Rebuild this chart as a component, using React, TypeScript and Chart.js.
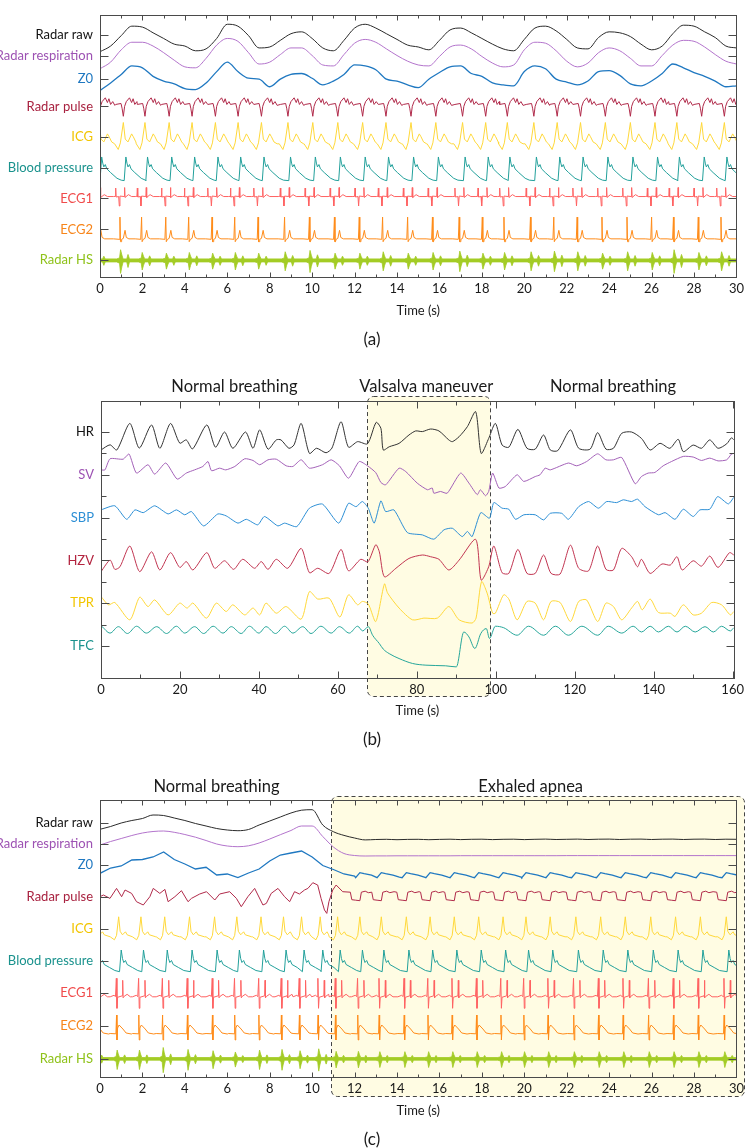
import { useEffect, useRef } from 'react';
import { Chart, registerables } from 'chart.js';

Chart.register(...registerables);

const FONT = 'Lato, "DejaVu Sans", sans-serif';
const AXIS = '#4a4a4a';
const TEXT = '#1a1a1a';

type P = { x: number; y: number };

// ================= Panel (a) =================
const namesA = ['Radar raw', 'Radar respiration', 'Z0', 'Radar pulse', 'ICG', 'Blood pressure', 'ECG1', 'ECG2', 'Radar HS'];
const ticksA = [25.6, 23.4, 20.9, 18.03, 14.77, 11.53, 8.3, 5.03, 1.77];
const xTicksA = [0, 2, 4, 6, 8, 10, 12, 14, 16, 18, 20, 22, 24, 26, 28, 30];

// slow signals sampled every 0.5 s from 0 to 30 s
const rawA = [-1.8, -1.2, -0.1, 0.9, 0.8, 0.2, -0.4, -1.0, -1.2, -1.7, -1.5, -0.4, 1.1, 0.9, -0.1, -1.4, -1.3, -0.6, 0.1, 0.3, -0.4, -1.4, -1.7, -0.6, 0.7, 1.1, 0.7, 0.1, -0.5, -1.1, -1.3, -1.6, -0.6, 0.5, 0.7, 0.2, -0.4, -1.0, -1.5, -1.7, -0.5, 0.7, 0.9, 0.4, -0.5, -1.4, -1.5, -0.3, 0.3, 0.2, -0.2, -1.0, -1.6, -1.2, 0.1, 1.0, 0.9, 0.3, -0.3, -1.2, -1.4];
const respA = [-1.4, -0.7, 0.6, 1.4, 1.4, 1.0, 0.3, -0.5, -1.2, -1.3, -0.3, 1.1, 1.8, 1.5, 0.3, -0.9, -0.7, 0.1, 0.8, 0.8, 0, -1.0, -1.1, 0.1, 1.3, 1.7, 1.4, 0.7, 0, -0.6, -1.0, -1.1, -0.1, 0.9, 1.1, 0.7, -0.1, -0.8, -1.2, -1.0, 0.6, 1.4, 1.3, 0.5, -0.6, -1.2, -0.8, 0.3, 0.8, 0.5, -0.3, -1.1, -1.1, 0, 1.1, 1.6, 1.5, 0.9, 0.1, -0.6, -0.9];
const z0A = [-1.2, -0.4, 0.5, 1.4, 1.2, 0.3, -0.2, -0.5, -1.0, -1.1, -0.4, 0.8, 1.8, 0.8, 0.1, 0, -0.8, 0, 0.5, 0.6, 0.1, -0.6, -0.2, 0.5, 1.5, 1.4, 1.0, 0, -0.2, -0.6, -0.9, 0, 0.7, 1.3, 1.4, 0.6, 0.3, -0.4, -0.6, -0.7, 0.8, 1.4, 1.1, 0, -0.3, -0.6, -0.2, 0.8, 0.9, 0.4, -0.5, -0.7, -0.2, 0.6, 1.6, 1.2, 0.7, 0.3, -0.2, -0.8, -0.7];

// heart beats (R peak times, s)
const beatsA = [-0.2, 0.94, 1.96, 3.1, 4.18, 5.28, 6.35, 7.45, 8.7, 9.87, 11.05, 12.22, 13.32, 14.5, 15.67, 16.93, 18.02, 19.04, 20.29, 21.39, 22.49, 23.66, 24.84, 26.0, 27.03, 28.2, 29.27, 30.4];
// beat morphologies: [time after R (s), value]
const pulseTplA = [[-0.2, 0.2], [0.05, 0.3], [0.1, -0.2], [0.16, -1.05], [0.22, 0.0], [0.3, 0.5], [0.45, 0.9], [0.55, 0.4], [0.62, 0.8], [0.7, 0.2], [0.8, 0.5], [0.9, 0.1]];
const icgTplA = [[-0.25, -0.7], [-0.08, -1.3], [0.02, -0.6], [0.16, 1.55], [0.25, -0.2], [0.38, -0.5], [0.55, 0.35], [0.63, 0.05], [0.75, -0.5], [0.9, -0.7]];
const bpTplA = [[0.2, -1.35], [0.28, 1.15], [0.33, 0.5], [0.38, 0.1], [0.45, 0.35], [0.52, -0.1], [0.7, -0.5], [1.0, -1.1], [1.2, -1.3]];
const ecg1TplA = [[-0.3, 0.2], [-0.22, 0.22], [-0.2, 1.1], [-0.18, 0.15], [-0.06, 0.2], [-0.03, -0.8], [0.0, 0.25], [0.2, 0.2], [0.22, 1.15], [0.24, 0.1], [0.4, 0.4], [0.55, 0.2]];
const ecg2TplA = [[-0.3, -1.0], [-0.04, -1.05], [0.0, 1.3], [0.025, -1.3], [0.05, -1.3], [0.08, -1.05], [0.16, -0.95], [0.24, -0.1], [0.3, -0.85], [0.42, -1.0]];
// heart sound envelope: [time after R, base half-width, burst half-width]
const hsTplA = [[-0.15, 0.18, 0], [-0.02, 0.18, 0.1], [0.03, 0.22, 0.9], [0.09, 0.18, 0.4], [0.15, 0.18, 0], [0.32, 0.18, 0], [0.38, 0.18, 0.45], [0.45, 0.18, 0]];
const hsAmpA = [0.8, 1.3, 0.9, 0.8, 0.9, 0.8, 0.9, 0.8, 1.0, 1.2, 0.8, 0.8, 1.0, 0.8, 0.9, 1.1, 0.8, 0.9, 1.0, 1.1, 1.0, 0.8, 1.0, 0.9, 1.3, 0.9, 1.0, 0.9];

// ================= Panel (b) =================
const namesB = ['HR', 'SV', 'SBP', 'HZV', 'TPR', 'TFC'];
const ticksB = [10, 8, 6, 4, 2, 0];
const minorTicksB = [9, 7, 5, 3, 1];
const xTicksB = [0, 20, 40, 60, 80, 100, 120, 140, 160];

const hrT = [0, 2.3, 4.0, 7.3, 9.7, 12.8, 14.9, 17.6, 19.95, 21.6, 23.2, 26.8, 29.0, 31.3, 33.4, 36.6, 38.5, 40.2, 42.3, 44.4, 45.6, 47.6, 48.9, 50.7, 52.8, 54.6, 57.0, 58.5, 60.8, 62.7, 65.0, 67.5, 69.7, 70.9, 71.5, 73.0, 75.5, 78.0, 79.7, 81.4, 83.5, 85.6, 88.1, 89.0, 90.7, 92.8, 94.9, 96.3, 98.2, 99.9, 101.6, 103.3, 105.6, 107.9, 110.0, 112.1, 113.8, 115.7, 118.9, 121.0, 123.9, 125.8, 127.9, 129.8, 131.9, 134.4, 136.9, 139.1, 141.6, 144.1, 146.2, 147.5, 150.0, 152.1, 154.2, 156.3, 158.5, 159.7, 160.3];
const hrV = [-0.84, -0.6, -0.84, 0.4, -0.75, 0.33, -0.76, 0.4, -0.52, -0.37, -0.79, 0.33, -0.71, 0.0, -0.76, 0.0, -0.76, 0.1, -0.8, -0.37, -0.37, -0.76, -0.6, 0.4, -1.0, -0.76, -0.97, -0.75, 0.48, -0.71, -0.45, -0.55, 0.45, 0.17, -0.84, -0.69, -0.53, -0.14, 0.05, 0.02, 0.14, 0.05, -0.37, -0.45, -0.22, 0.25, 0.95, -1.0, -0.3, 0.4, -0.61, -0.71, 0.12, -0.76, -0.8, -0.14, -0.84, -0.87, 0.1, -0.76, -0.8, -0.03, -0.8, -0.76, -0.06, 0.0, -0.3, -0.84, -0.53, -0.76, -0.34, -0.92, -0.61, -0.76, -0.37, -0.76, -0.55, -0.27, -0.37];
const svT = [0, 1.0, 2.3, 5.6, 7.1, 9.0, 11.9, 13.6, 16.4, 19.3, 21.6, 23.7, 25.8, 27.1, 28.0, 30.0, 31.6, 33.9, 36.4, 38.5, 40.2, 42.3, 44.4, 46.9, 48.6, 50.7, 52.8, 56.1, 58.3, 60.4, 62.7, 65.4, 67.5, 69.6, 70.9, 72.1, 75.5, 77.2, 80.1, 82.7, 83.9, 84.3, 86.0, 87.7, 91.1, 93.2, 95.3, 96.1, 97.4, 98.2, 99.2, 100.8, 102.4, 105.4, 107.1, 110.0, 111.2, 112.5, 113.8, 118.4, 120.5, 123.0, 125.8, 127.9, 129.8, 131.9, 135.3, 136.9, 138.6, 140.3, 142.4, 144.5, 147.5, 150.0, 152.1, 154.2, 156.3, 158.5, 159.7, 160.3];
const svV = [0.23, 0.23, 0.75, 0.73, 0.97, 0.08, 0.47, 0.03, 0.55, -0.2, 0.08, 0.23, 0.39, 0.62, 0.19, 0.31, 0.23, 0.39, 0.75, 0.67, 0.47, 0.7, 0.73, 0.42, 0.39, 0.7, 0.31, 0.47, 0.7, 0.42, -0.16, 0.62, 0.42, 0.1, -0.36, -0.47, 0.31, 0.15, -0.39, -0.7, -0.62, -0.86, -0.78, -0.86, 0.08, -0.39, -0.93, -0.7, -0.98, -0.78, 0.08, -0.62, -0.55, 0.0, -0.31, -0.08, 0.0, 0.31, 0.23, 0.55, 0.42, 0.62, 0.98, 0.7, 0.7, 0.81, -0.42, -0.08, 0.08, 0.11, 0.42, 0.62, 0.86, 0.83, 0.67, 0.78, 0.65, 0.7, 0.97, 1.0];
const sbpT = [0, 3.5, 6.5, 8.6, 10.7, 13.6, 17.0, 19.1, 21.2, 22.9, 26.0, 29.6, 31.7, 34.7, 36.8, 39.7, 41.4, 44.8, 46.5, 49.6, 52.8, 56.1, 60.2, 62.7, 64.6, 66.2, 67.7, 69.2, 70.9, 72.1, 74.2, 77.6, 81.4, 84.3, 86.9, 89.0, 91.5, 92.8, 94.0, 96.2, 98.4, 99.5, 101.6, 103.3, 105.0, 107.1, 110.0, 112.1, 113.8, 116.7, 118.4, 121.0, 123.5, 126.0, 128.1, 130.6, 132.3, 134.4, 135.9, 137.8, 141.2, 142.9, 145.4, 147.5, 150.0, 151.7, 154.2, 156.2, 158.9, 160.3];
const sbpV = [0.36, 0.55, -0.08, 0.36, 0.23, 0.55, 0.17, 0.36, 0.13, 0.28, -0.39, 0.17, 0.08, -0.26, -0.08, -0.34, 0.05, -0.39, -0.26, -0.42, 0.44, 0.63, -0.26, 0.67, 0.51, 0.75, 0.44, -0.26, 0.78, 0.28, 0.36, -0.7, -0.81, -1.01, -0.57, -0.5, -0.89, -0.65, -0.89, 0.23, -0.03, 0.7, 0.44, 0.39, -0.08, 0.13, 0.13, -0.11, 0.2, 0.2, -0.08, 0.51, 0.75, 0.44, 0.75, 0.7, 0.83, 0.75, 0.86, 0.51, 0.13, 0.23, -0.08, 0.39, 0.05, 0.36, 0.39, 0.98, 0.64, 0.95];
const hzvT = [0, 2.3, 3.5, 4.8, 7.3, 9.8, 12.8, 14.9, 17.6, 19.95, 21.6, 23.3, 26.8, 28.8, 31.3, 33.6, 35.9, 38.9, 40.6, 42.3, 44.4, 47.3, 50.7, 52.8, 54.9, 57.8, 60.8, 62.7, 65.8, 67.6, 69.6, 70.5, 71.8, 74.7, 78.0, 81.4, 83.5, 85.6, 88.1, 90.7, 94.9, 96.3, 98.2, 99.5, 101.6, 103.3, 105.6, 107.9, 110.0, 112.1, 114.0, 116.3, 118.9, 121.0, 123.5, 125.8, 127.9, 129.8, 131.9, 134.4, 135.9, 136.9, 139.1, 142.1, 144.2, 145.9, 147.2, 150.0, 152.1, 154.2, 156.3, 159.2, 160.3];
const hzvV = [-0.53, 0.01, -0.42, -0.3, 0.67, -0.53, 0.4, -0.45, 0.36, -0.33, -0.06, -0.45, 0.36, -0.37, -0.02, -0.42, 0.05, -0.37, -0.06, -0.42, 0.05, -0.37, 0.56, -0.58, -0.37, -0.61, 0.51, -0.49, 0.05, -0.07, 0.73, 0.4, -0.77, -0.37, 0.09, 0.25, 0.17, 0.05, -0.45, 0.01, 0.98, -0.92, -0.3, 0.67, -0.58, -0.61, 0.51, -0.61, -0.61, 0.25, -0.61, -0.64, 0.71, -0.37, -0.49, 0.67, -0.42, -0.45, 0.56, 0.17, -0.3, 0.05, -0.61, -0.17, -0.22, 0.17, -0.45, -0.02, -0.27, 0.2, -0.33, 0.36, 0.25];
const tprT = [0, 1.9, 3.5, 7.3, 9.8, 11.9, 13.6, 17.0, 19.95, 21.8, 23.3, 26.7, 29.2, 31.7, 33.4, 36.4, 38.5, 40.2, 41.8, 44.4, 46.9, 50.7, 52.8, 54.9, 57.8, 60.5, 62.7, 65.0, 66.2, 67.7, 69.6, 71.8, 72.6, 75.5, 78.9, 81.8, 85.2, 88.1, 90.7, 94.0, 95.0, 96.4, 97.8, 99.2, 99.9, 102.0, 103.3, 105.4, 107.9, 110.0, 112.1, 114.0, 116.3, 118.9, 121.0, 123.0, 125.8, 127.9, 129.8, 131.9, 134.4, 135.9, 137.1, 139.1, 141.2, 144.2, 145.4, 147.5, 150.0, 152.1, 154.7, 157.2, 159.4, 160.3];
const tprV = [0.31, -0.08, 0.03, -0.78, 0.28, -0.16, 0.15, -0.55, 0, -0.23, 0, -0.7, 0, -0.39, -0.08, -0.55, -0.23, -0.55, 0, -0.47, -0.16, -0.75, 0.54, 0.19, 0.23, -0.65, 0.39, -0.08, 0.08, -0.04, -0.86, 0.9, 0.47, -0.23, -0.78, -0.7, -0.7, -0.16, -0.78, -0.93, -0.7, 1.01, 0.47, -0.47, -0.47, 0.39, 0.19, -0.78, 0.08, 0, -0.78, 0.08, 0.03, -0.86, 0.08, 0.15, -0.86, 0, -0.16, -0.78, -0.23, 0.08, -0.31, 0.19, -0.44, -0.47, -0.62, -0.08, -0.55, -0.47, 0.03, -0.08, -0.55, -0.39];
const tfcT = [0.2, 2.3, 4.4, 6.7, 9.0, 11.5, 14.1, 16.6, 19.1, 21.2, 23.7, 26.0, 28.4, 30.9, 33.0, 35.5, 37.6, 40.0, 41.8, 44.2, 46.5, 48.6, 51.1, 53.2, 55.7, 58.3, 60.4, 62.9, 65.0, 66.3, 67.7, 68.8, 70.5, 71.5, 73.0, 75.5, 78.9, 82.3, 87.3, 90.0, 91.9, 93.2, 94.7, 96.2, 97.6, 98.4, 99.9, 102.0, 105.4, 108.3, 112.1, 115.1, 118.4, 121.8, 125.8, 128.5, 131.9, 134.8, 136.9, 139.1, 141.2, 143.7, 145.9, 148.0, 150.5, 153.0, 155.1, 157.2, 159.4, 160.3];
const tfcV = [0.92, 0.6, 0.9, 0.58, 0.92, 0.6, 0.9, 0.58, 0.92, 0.6, 0.9, 0.58, 0.92, 0.6, 0.9, 0.58, 0.92, 0.6, 0.9, 0.58, 0.92, 0.6, 0.9, 0.58, 0.92, 0.6, 0.9, 0.6, 0.92, 0.7, 0.9, 0.5, 0.11, -0.15, -0.36, -0.59, -0.82, -0.9, -0.93, -0.98, 0.65, 0.42, -0.12, 0.58, 0.81, 0.35, 0.92, 0.85, 0.5, 0.92, 0.5, 0.92, 0.5, 0.92, 0.5, 0.92, 0.6, 0.92, 0.65, 0.92, 0.65, 0.92, 0.65, 0.92, 0.65, 0.9, 0.65, 0.92, 0.7, 0.85];

// ================= Panel (c) =================
const namesC = namesA;
const ticksC = [25.43, 23.3, 21.23, 18.03, 14.77, 11.6, 8.37, 5.1, 1.83];
const xTicksC = xTicksA;

const rawC = [-0.66, -0.38, -0.03, 0.22, 0.42, 0.77, 0.72, 0.47, 0.22, -0.08, -0.33, -0.58, -0.73, -0.8, -0.68, -0.23, 0.17, 0.57, 0.97, 1.25, 1.3, -0.23, -0.9, -1.27, -1.53, -1.72, -1.68, -1.66, -1.7, -1.67, -1.66, -1.7, -1.67, -1.65, -1.69, -1.66, -1.65, -1.69, -1.66, -1.65, -1.69, -1.66, -1.64, -1.68, -1.66, -1.64, -1.68, -1.65, -1.64, -1.68, -1.65, -1.64, -1.68, -1.65, -1.64, -1.68, -1.65, -1.64, -1.68, -1.65, -1.66];
const respC = [-0.1, 0.25, 0.55, 0.85, 1.1, 1.25, 1.3, 1.17, 0.95, 0.68, 0.35, 0.0, -0.2, -0.27, -0.18, 0.1, 0.5, 0.93, 1.35, 1.8, 1.8, 0.75, -0.3, -0.95, -1.15, -1.2, -1.19, -1.19, -1.18, -1.18, -1.18, -1.18, -1.18, -1.18, -1.17, -1.17, -1.17, -1.17, -1.17, -1.17, -1.17, -1.17, -1.17, -1.17, -1.16, -1.16, -1.16, -1.16, -1.16, -1.16, -1.16, -1.16, -1.16, -1.16, -1.16, -1.16, -1.16, -1.16, -1.16, -1.16, -1.16];
const z0GridC = [-0.86, -0.33, -0.13, 0.47, 0.52, 0.77, 1.27, 0.52, 0.07, -0.43, -0.26, -1.03, -0.93, -1.28, -0.83, -0.43, 0.37, 0.97, 1.17, 1.37, 0.77, -0.08, -0.48, -0.93, -1.15];
const z0TplC = [[-0.1, -1.3], [0.1, -0.8], [0.3, -0.9], [0.65, -1.05], [0.95, -1.25]];
const pulseTC = [0, 0.16, 0.47, 0.78, 1.02, 1.18, 1.49, 1.72, 2.04, 2.35, 2.51, 2.82, 3.06, 3.21, 3.53, 3.84, 4.15, 4.31, 4.7, 5.02, 5.41, 5.64, 6.11, 6.43, 6.66, 6.97, 7.29, 7.68, 7.84, 8.07, 8.39, 8.7, 8.94, 9.17, 9.4, 9.64, 9.8, 10.03, 10.26, 10.42, 10.58, 10.69, 10.79, 10.97, 11.13, 11.44];
const pulseVC = [0, 0.17, -0.17, 0.83, 0, 0.67, 0.33, -0.5, -0.83, 0, 0.83, 0.33, 0.73, -0.5, 0, 0.6, -0.5, -0.17, 0.27, 0.5, -0.33, 0.27, 0.5, -0.17, -1.0, 0, 0.83, -0.83, -0.67, 0.33, 0.83, 0, -0.5, 0.5, 0.27, 0.67, 0.83, 1.4, 1.17, -0.17, -1.33, -1.67, -0.5, 0.67, 1.17, 0.5];
const pulseTplC = [[-0.35, 0.45], [-0.28, -0.3], [-0.1, -0.35], [0.1, -0.4], [0.17, 0.45], [0.35, 0.55], [0.5, 0.4], [0.7, 0.5]];

const beatsC = [-0.3, 0.78, 1.83, 2.95, 4.12, 5.3, 6.35, 7.49, 8.55, 9.4, 10.28, 11.1, 12.15, 13.16, 14.34, 15.46, 16.6, 17.75, 18.9, 19.98, 21.12, 22.33, 23.5, 24.66, 25.86, 27.03, 28.2, 29.42, 30.6];
const icgTplC = [[-0.3, -0.75], [-0.1, -1.05], [0.0, -0.6], [0.1, 1.25], [0.17, -0.2], [0.28, -0.55], [0.42, -0.25], [0.5, -0.55], [0.8, -0.75]];
const bpTplC = [[0.14, -1.07], [0.22, 1.1], [0.28, 0.25], [0.34, -0.15], [0.42, 0.05], [0.5, -0.35], [0.75, -0.65], [1.0, -0.95]];
const ecg1TplC = [[-0.3, -0.35], [-0.12, -0.2], [-0.05, -0.33], [-0.01, 1.5], [0.02, -1.5], [0.05, -0.4], [0.27, -0.25], [0.29, 1.3], [0.31, -0.45], [0.36, -0.3], [0.5, -0.1], [0.65, -0.35]];
const ecg2TplC = [[-0.3, -0.75], [-0.03, -0.78], [0.0, 1.1], [0.02, -1.4], [0.05, -0.2], [0.12, 0.1], [0.3, -0.3], [0.45, -0.7], [0.7, -0.8]];
const hsTplC = [[-0.15, 0.15, 0], [-0.02, 0.15, 0.1], [0.03, 0.2, 0.8], [0.08, 0.2, 0.35], [0.14, 0.15, 0], [0.32, 0.15, 0], [0.38, 0.15, 0.3], [0.44, 0.15, 0]];
const hsAmpC = [1.0, 1.1, 1.1, 1.5, 1.2, 1.0, 0.8, 1.1, 1.2, 1.0, 1.3, 0.9, 0.9, 0.85, 0.85, 0.85, 0.85, 0.85, 0.85, 0.85, 0.85, 0.85, 0.85, 0.85, 0.85, 0.85, 0.85, 0.85, 0.85];

// ================= styles =================
const COL = {
  raw: '#2b2b2b', resp: '#b374cc', z0: '#1f78c1', pulse: '#b02a4a', icg: '#ffd83a',
  bp: '#22a09b', ecg1: '#ff6262', ecg2: '#ff8c1a', hs: '#a3cc25',
};
const labelColA = ['#111111', '#9d52b3', '#1f78c1', '#a8213f', '#f2c500', '#1a928d', '#f04b4b', '#f7851a', '#8fc21a'];
const COLB = { hr: '#333333', sv: '#a361b8', sbp: '#2d8fd5', hzv: '#c13551', tpr: '#ffd83a', tfc: '#26a69a' };
const labelColB = ['#111111', '#9d52b3', '#2d8fd5', '#b3243f', '#f2c500', '#1a928d'];

// ================= builders =================
function gridSeries(t0: number, dt: number, vals: number[], off: number): P[] {
  return vals.map((v, i) => ({ x: t0 + i * dt, y: off + v }));
}
function pairSeries(ts: number[], vs: number[], off: number): P[] {
  return ts.map((t, i) => ({ x: t, y: off + vs[i] }));
}
function beatSeries(beats: number[], tpl: number[][], off: number): P[] {
  const out: P[] = [];
  beats.forEach((b, i) => {
    const stop = i + 1 < beats.length ? beats[i + 1] + tpl[0][0] : Infinity;
    for (const [dt, v] of tpl) {
      const t = b + dt;
      if (t >= stop) break;
      out.push({ x: t, y: off + v });
    }
  });
  return out;
}
function hsBand(beats: number[], tpl: number[][], amps: number[], off: number): [P[], P[]] {
  const up: P[] = [];
  const lo: P[] = [];
  beats.forEach((b, i) => {
    const stop = i + 1 < beats.length ? beats[i + 1] + tpl[0][0] : Infinity;
    for (const [dt, base, burst] of tpl) {
      const t = b + dt;
      if (t >= stop) break;
      const hw = base + burst * amps[i];
      up.push({ x: t, y: off + 0.8 * hw });
      lo.push({ x: t, y: off - hw });
    }
  });
  return [up, lo];
}
function ds(data: P[], color: string, width = 1, smooth = 0): any {
  return {
    data, borderColor: color, backgroundColor: color, borderWidth: width, pointRadius: 0,
    fill: false, tension: smooth, cubicInterpolationMode: smooth >= 0.4 ? 'monotone' : 'default',
  };
}
function bandDs(band: [P[], P[]], color: string): any[] {
  return [
    { data: band[0], borderColor: color, backgroundColor: color, borderWidth: 0.8, pointRadius: 0, fill: false, tension: 0 },
    { data: band[1], borderColor: color, backgroundColor: color, borderWidth: 0.8, pointRadius: 0, fill: '-1', tension: 0 },
  ];
}

// ================= decoration plugin =================
function boxRect(chart: any, b: any) {
  const a = chart.chartArea;
  const x = chart.scales.x;
  const x0 = Math.round(x.getPixelForValue(b.x0)) + 0.5;
  const x1 = b.x1 != null ? Math.round(x.getPixelForValue(b.x1)) + 0.5 : Math.round(a.right + b.rightPad) + 0.5;
  const y0 = Math.round(a.top - b.above) + 0.5;
  const y1 = Math.round(a.bottom + b.below) + 0.5;
  return { x: x0, y: y0, w: x1 - x0, h: y1 - y0 };
}

const decorPlugin: any = {
  id: 'decor',
  beforeDraw(chart: any, _a: any, o: any) {
    const { ctx } = chart;
    ctx.save();
    ctx.fillStyle = '#ffffff';
    ctx.fillRect(0, 0, chart.width, chart.height);
    if (o.box) {
      const r = boxRect(chart, o.box);
      ctx.fillStyle = o.box.fill;
      ctx.beginPath();
      ctx.roundRect(r.x, r.y, r.w, r.h, o.box.radius);
      ctx.fill();
    }
    ctx.restore();
  },
  beforeDatasetsDraw(chart: any, _a: any, o: any) {
    if (!o.box) return;
    const { ctx } = chart;
    const r = boxRect(chart, o.box);
    ctx.save();
    ctx.strokeStyle = o.box.stroke;
    ctx.lineWidth = 1;
    ctx.setLineDash([4, 3]);
    ctx.beginPath();
    ctx.roundRect(r.x, r.y, r.w, r.h, o.box.radius);
    ctx.stroke();
    ctx.restore();
  },
  afterDraw(chart: any, _a: any, o: any) {
    const { ctx } = chart;
    const a = chart.chartArea;
    const x = chart.scales.x;
    const y = chart.scales.y;
    const L = Math.round(a.left) + 0.5;
    const R = Math.round(a.right) + 0.5;
    const T = Math.round(a.top) + 0.5;
    const B = Math.round(a.bottom) + 0.5;
    ctx.save();
    ctx.strokeStyle = AXIS;
    ctx.lineWidth = 1;
    ctx.strokeRect(L, T, R - L, B - T);
    ctx.beginPath();
    const n = Math.round((o.xMax - o.xMin) / o.xMinor);
    for (let i = 0; i <= n; i++) {
      const v = o.xMin + i * o.xMinor;
      const px = Math.round(x.getPixelForValue(v)) + 0.5;
      const major = Math.abs(v / o.xMajor - Math.round(v / o.xMajor)) < 1e-6;
      const len = major ? o.majorLen : o.minorLen;
      ctx.moveTo(px, B); ctx.lineTo(px, B - len);
      ctx.moveTo(px, T); ctx.lineTo(px, T + len);
    }
    for (const t of o.yTicks) {
      const py = Math.round(y.getPixelForValue(t.v)) + 0.5;
      ctx.moveTo(L, py); ctx.lineTo(L + t.len, py);
      ctx.moveTo(R, py); ctx.lineTo(R - t.len, py);
    }
    ctx.stroke();
    ctx.fillStyle = TEXT;
    ctx.textAlign = 'center';
    ctx.textBaseline = 'middle';
    ctx.font = `13px ${FONT}`;
    ctx.fillText('Time (s)', (a.left + a.right) / 2, a.bottom + o.titleGap);
    ctx.font = `17px ${FONT}`;
    ctx.fillText(o.caption, o.captionX, a.bottom + o.captionGap);
    ctx.font = `16.5px ${FONT}`;
    for (const h of o.headers || []) {
      ctx.fillText(h.text, x.getPixelForValue(h.x), a.top - h.gap);
    }
    ctx.restore();
  },
};

function makeConfig(p: any): any {
  return {
    type: 'line',
    data: { datasets: p.datasets },
    options: {
      responsive: false,
      animation: false,
      devicePixelRatio: 1,
      events: [],
      layout: { padding: { top: p.pad.top, right: p.pad.right, bottom: p.pad.bottom, left: 0 } },
      plugins: { legend: { display: false }, tooltip: { enabled: false }, decor: p.decor },
      scales: {
        x: {
          type: 'linear', min: p.xMin, max: p.xMax,
          afterBuildTicks: (s: any) => { s.ticks = p.xTicks.map((v: number) => ({ value: v })); },
          afterFit: (s: any) => { s.height = 20; },
          grid: { display: false, drawTicks: false },
          border: { display: false },
          ticks: { font: { family: FONT, size: 13 }, color: TEXT, padding: 4, maxRotation: 0, autoSkip: false },
        },
        y: {
          type: 'linear', min: p.yMin, max: p.yMax,
          afterBuildTicks: (s: any) => { s.ticks = p.yTicks.map((v: number) => ({ value: v })); },
          afterFit: (s: any) => { s.width = p.yWidth; },
          grid: { display: false, drawTicks: false },
          border: { display: false },
          ticks: {
            autoSkip: false, padding: 7,
            callback: (_v: any, i: number) => p.yNames[i],
            color: (c: any) => p.yColors[c.index],
            font: { family: FONT, size: 13 },
          },
        },
      },
    },
    plugins: [decorPlugin],
  };
}

function configA() {
  const o = ticksA;
  const datasets = [
    ds(gridSeries(0, 0.5, rawA, o[0]), COL.raw, 1, 0.4),
    ds(gridSeries(0, 0.5, respA, o[1]), COL.resp, 1, 0.4),
    ds(gridSeries(0, 0.5, z0A, o[2]), COL.z0, 1.3, 0.4),
    ds(beatSeries(beatsA, pulseTplA, o[3]), COL.pulse),
    ds(beatSeries(beatsA, icgTplA, o[4]), COL.icg),
    ds(beatSeries(beatsA, bpTplA, o[5]), COL.bp),
    ds(beatSeries(beatsA, ecg1TplA, o[6]), COL.ecg1),
    ds(beatSeries(beatsA, ecg2TplA, o[7]), COL.ecg2),
    ...bandDs(hsBand(beatsA, hsTplA, hsAmpA, o[8]), COL.hs),
  ];
  return makeConfig({
    datasets, xMin: 0, xMax: 30, xTicks: xTicksA, yMin: 0, yMax: 27.7, yTicks: ticksA,
    yNames: namesA, yColors: labelColA, yWidth: 100, pad: { top: 0, right: 10, bottom: 53 },
    decor: {
      xMin: 0, xMax: 30, xMinor: 1, xMajor: 2, majorLen: 5, minorLen: 3,
      yTicks: ticksA.map((v) => ({ v, len: 8 })), titleGap: 34, caption: '(a)', captionX: 372, captionGap: 63,
    },
  });
}

function configB() {
  const o = ticksB;
  const datasets = [
    ds(pairSeries(hrT, hrV, o[0]), COLB.hr, 1, 0.25),
    ds(pairSeries(svT, svV, o[1]), COLB.sv, 1, 0.2),
    ds(pairSeries(sbpT, sbpV, o[2]), COLB.sbp, 1, 0.2),
    ds(pairSeries(hzvT, hzvV, o[3]), COLB.hzv, 1, 0.25),
    ds(pairSeries(tprT, tprV, o[4]), COLB.tpr, 1, 0.25),
    ds(pairSeries(tfcT, tfcV, o[5]), COLB.tfc, 1, 0.4),
  ];
  return makeConfig({
    datasets, xMin: 0, xMax: 160.3, xTicks: xTicksB, yMin: -1.5, yMax: 11.45, yTicks: ticksB,
    yNames: namesB, yColors: labelColB, yWidth: 101, pad: { top: 51, right: 12, bottom: 62 },
    decor: {
      xMin: 0, xMax: 160, xMinor: 10, xMajor: 20, majorLen: 7, minorLen: 4,
      yTicks: [...ticksB.map((v) => ({ v, len: 8 })), ...minorTicksB.map((v) => ({ v, len: 5 }))],
      titleGap: 33, caption: '(b)', captionX: 372, captionGap: 62,
      box: { x0: 67.3, x1: 98.5, above: 5, below: 18, radius: 6, fill: '#fffce3', stroke: '#444444' },
      headers: [
        { text: 'Normal breathing', x: 33.8, gap: 14 },
        { text: 'Valsalva maneuver', x: 82.4, gap: 14 },
        { text: 'Normal breathing', x: 129.7, gap: 14 },
      ],
    },
  });
}

function configC() {
  const o = ticksC;
  const z0 = [
    ...gridSeries(0, 0.5, z0GridC, o[2]),
    ...beatSeries(beatsC.filter((b) => b > 12), z0TplC, o[2]),
  ];
  const pulse = [
    ...pairSeries(pulseTC, pulseVC, o[3]),
    ...beatSeries(beatsC.filter((b) => b > 12), pulseTplC, o[3]),
  ];
  const datasets = [
    ds(gridSeries(0, 0.5, rawC, o[0]), COL.raw, 1, 0.4),
    ds(gridSeries(0, 0.5, respC, o[1]), COL.resp, 1, 0.4),
    ds(z0, COL.z0, 1.3),
    ds(pulse, COL.pulse),
    ds(beatSeries(beatsC, icgTplC, o[4]), COL.icg),
    ds(beatSeries(beatsC, bpTplC, o[5]), COL.bp),
    ds(beatSeries(beatsC, ecg1TplC, o[6]), COL.ecg1),
    ds(beatSeries(beatsC, ecg2TplC, o[7]), COL.ecg2),
    ...bandDs(hsBand(beatsC, hsTplC, hsAmpC, o[8]), COL.hs),
  ];
  return makeConfig({
    datasets, xMin: 0, xMax: 30, xTicks: xTicksC, yMin: 0, yMax: 27.7, yTicks: ticksC,
    yNames: namesC, yColors: labelColA, yWidth: 100, pad: { top: 40, right: 10, bottom: 51 },
    decor: {
      xMin: 0, xMax: 30, xMinor: 1, xMajor: 2, majorLen: 5, minorLen: 3,
      yTicks: ticksC.map((v) => ({ v, len: 8 })), titleGap: 34, caption: '(c)', captionX: 372, captionGap: 63,
      box: { x0: 10.9, x1: null, rightPad: 8, above: 4, below: 19, radius: 6, fill: '#fffce3', stroke: '#444444' },
      headers: [
        { text: 'Normal breathing', x: 5.49, gap: 13 },
        { text: 'Exhaled apnea', x: 20.3, gap: 13 },
      ],
    },
  });
}

function ChartBox({ top, height, make }: { top: number; height: number; make: () => any }) {
  const ref = useRef<HTMLCanvasElement>(null);
  useEffect(() => {
    const chart = new Chart(ref.current as HTMLCanvasElement, make());
    return () => chart.destroy();
  }, []);
  return (
    <div style={{ position: 'absolute', left: 0, top, width: 748, height }}>
      <canvas ref={ref} width={748} height={height} style={{ width: 748, height, display: 'block' }} />
    </div>
  );
}

export default function App() {
  return (
    <div style={{ position: 'absolute', left: 0, top: 0, width: 748, height: 1148, background: '#fff', overflow: 'hidden' }}>
      <ChartBox top={0} height={350} make={configA} />
      <ChartBox top={350} height={410} make={configB} />
      <ChartBox top={760} height={388} make={configC} />
    </div>
  );
}
